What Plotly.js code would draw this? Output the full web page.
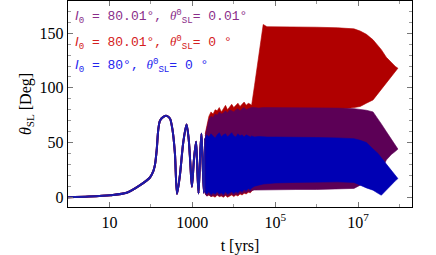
<!DOCTYPE html>
<html>
<head>
<meta charset="utf-8">
<script src="https://cdn.plot.ly/plotly-3.0.1.min.js"></script>
<style>html,body{margin:0;padding:0;background:#fff;}#chart{width:436px;height:255px;}</style>
</head>
<body>
<div id="chart"></div>
<script>
// ---- early (common) evolution, t in years ----
const tEarly = [1, 3.16, 10.5, 26, 55, 95, 115, 126, 138, 151, 166, 200, 240, 288, 331, 380, 427, 501, 603, 724, 813, 891, 977, 1096, 1230, 1318, 1413, 1549, 1660, 1778, 1905, 2042, 2138];
const thetaEarly = [0, 0.6, 1.8, 4, 11, 18, 24, 30, 43, 62, 70, 73.5, 74.4, 72, 62, 40, 3, 20, 50, 66.5, 54, 32, 9.6, 35, 50.7, 25, 3.4, 40, 58, 30, 4, 54, 28];

// ---- late, densely oscillating regime: envelope samples ----
const tBand = [2.042e3, 2.239e3, 2.512e3, 2.818e3, 3.162e3, 3.548e3, 3.981e3, 4.467e3, 5.012e3, 5.623e3,
  6.310e3, 7.079e3, 7.943e3, 8.913e3, 1.0e4, 1.122e4, 1.259e4, 1.413e4, 1.585e4, 1.778e4,
  1.995e4, 2.239e4, 2.512e4, 2.692e4, 3.162e4, 3.981e4, 5.129e4, 6.310e4, 1.0e5, 3.162e5,
  1.0e6, 3.162e6, 7.943e6, 1.122e7, 1.585e7, 2.291e7, 3.020e7, 3.631e7, 4.786e7, 6.310e7,
  7.943e7, 9.120e7];

const redUpper = [58, 66, 74, 78, 76, 80, 79, 82, 78, 81, 84, 80, 83, 85, 82, 84, 86, 83, 85, 87,
  84, 86, 85, 84, 102, 128, 158, 156, 156, 155.5, 155.5, 155, 154, 152, 149, 144, 139, 135, 128, 123,
  119.5, 118];
const redLower = [3, 1, 2, 0.5, 1, 0, 2, 0.5, 1, 0, 1.5, 0, 1, 2, 0.5, 2, 1, 3, 2, 3.5,
  3, 4.5, 4, 5.5, 8, 9, 10, 12, 20, 50, 75, 80, 82, 83, 86, 89, 95, 99, 104, 110,
  115, 118];

const purpleUpper = [56, 64, 71, 74, 73, 76, 75, 78, 76, 77, 79, 77, 80, 79, 78, 80, 81, 79, 81, 82,
  80, 81, 82, 82, 82, 81.5, 82, 82, 82, 82, 82, 81.5, 81, 80.5, 79.5, 78, 72, 67, 60, 53,
  47, 44];
const purpleLower = [3, 1, 2.5, 0.5, 2, 1, 2.5, 1, 2, 0.5, 2.5, 1, 2, 3, 1.5, 3, 2, 4, 3, 4.5,
  4, 5.5, 5, 6, 6.5, 7, 7, 7, 7, 7, 7, 7.5, 8, 11, 13, 16, 20, 24, 34, 39,
  42, 44];

const blueUpper = [54, 57, 55, 58, 56, 54, 57, 59, 55, 57, 58, 55, 57, 59, 56, 55, 58, 56, 57, 55,
  57, 56, 55, 56, 55, 55.5, 55, 55, 55, 55, 54.6, 54.2, 53.5, 52, 50, 44, 40, 36, 30, 24.5,
  20, 17];
const blueLower = [4, 3, 5, 2.5, 4, 3, 5, 3, 4, 2.5, 5, 3, 4, 5, 3.5, 5, 4, 6, 5, 7,
  6, 8, 7, 8.5, 10, 11, 12, 12.5, 13, 13.5, 14, 14, 13.5, 11, 8.5, 6.4, 3.5, 1.8, 6.4, 11,
  15, 17];

const seriesNames = ['I0 = 80.01°, θSL0 = 0.01°', 'I0 = 80.01°, θSL0 = 0°', 'I0 = 80°, θSL0 = 0°'];
const legendLabels = [
  '<span style="font-family:Liberation Sans"><i>I</i></span><sub>0</sub> = 80.01°, <span style="font-family:Liberation Serif"><i>θ</i></span><sup>0</sup><sub>SL</sub>= 0.01°',
  '<span style="font-family:Liberation Sans"><i>I</i></span><sub>0</sub> = 80.01°, <span style="font-family:Liberation Serif"><i>θ</i></span><sup>0</sup><sub>SL</sub>= 0 °',
  '<span style="font-family:Liberation Sans"><i>I</i></span><sub>0</sub> = 80°, <span style="font-family:Liberation Serif"><i>θ</i></span><sup>0</sup><sub>SL</sub>= 0 °'
];
const fillColors = ['#5c0056', '#b00000', '#0000b4'];   // purple, red, blue
const textColors = ['#8a2e8a', '#d42020', '#2424ee'];

function band(upper, lower, color, name) {
  return {
    type: 'scatter', mode: 'lines', name: name, showlegend: false, hoverinfo: 'skip',
    x: tBand.concat(tBand.slice().reverse()),
    y: upper.concat(lower.slice().reverse()),
    fill: 'toself', fillcolor: color,
    line: {color: color, width: 0.6}
  };
}
function early(color, name) {
  return {
    type: 'scatter', mode: 'lines', name: name, showlegend: false,
    x: tEarly, y: thetaEarly,
    line: {color: color, width: 2, shape: 'spline', smoothing: 0.8}
  };
}

const data = [
  early(fillColors[1], seriesNames[1]),
  early(fillColors[0], seriesNames[0]),
  early('#1a1aa8', seriesNames[2]),
  band(redUpper, redLower, fillColors[1], seriesNames[1]),
  band(purpleUpper, purpleLower, fillColors[0], seriesNames[0]),
  band(blueUpper, blueLower, fillColors[2], seriesNames[2])
];

const serif = 'Liberation Serif, Times New Roman, serif';
const legendY = [0.925, 0.80, 0.685];
const annotations = legendLabels.map((txt, i) => ({
  xref: 'paper', yref: 'paper', x: 0.014, y: legendY[i], xanchor: 'left', yanchor: 'middle',
  showarrow: false, text: txt,
  font: {family: 'Liberation Mono, Courier New, monospace', size: 13, color: textColors[i]}
}));

const layout = {
  width: 436, height: 255,
  margin: {l: 68, r: 24, t: 1, b: 48},
  paper_bgcolor: '#fff', plot_bgcolor: '#fff',
  showlegend: false,
  font: {family: serif, size: 16, color: '#000'},
  xaxis: {
    type: 'log', range: [0, 8.3],
    tickmode: 'array', tickvals: [10, 1000, 1e5, 1e7],
    ticktext: ['10', '1000', '10<sup>5</sup>', '10<sup>7</sup>'],
    ticks: 'inside', ticklen: 5, tickwidth: 1, tickcolor: '#777',
    minor: {tickmode: 'array', tickvals: [1, 100, 1e4, 1e6, 1e8], ticks: 'inside', ticklen: 3, tickcolor: '#999', showgrid: false},
    showline: true, linecolor: '#000', linewidth: 1.3, mirror: 'allticks',
    showgrid: false, zeroline: false,
    tickfont: {family: serif, size: 16, color: '#000'},
    title: {text: 't [yrs]', font: {family: serif, size: 16, color: '#000'}, standoff: 15}
  },
  yaxis: {
    range: [-9, 179.5],
    tickmode: 'array', tickvals: [0, 50, 100, 150],
    ticks: 'inside', ticklen: 5, tickwidth: 1, tickcolor: '#777',
    minor: {dtick: 10, tick0: 0, ticks: 'inside', ticklen: 3, tickcolor: '#999', showgrid: false},
    showline: true, linecolor: '#000', linewidth: 1.3, mirror: 'allticks',
    showgrid: false, zeroline: false,
    tickfont: {family: serif, size: 16, color: '#000'},
    title: {text: '<i>θ</i><sub>SL</sub> [Deg]', font: {family: serif, size: 16, color: '#000'}, standoff: 4}
  },
  annotations: annotations
};

Plotly.newPlot('chart', data, layout, {staticPlot: true, displayModeBar: false});
</script>
</body>
</html>
